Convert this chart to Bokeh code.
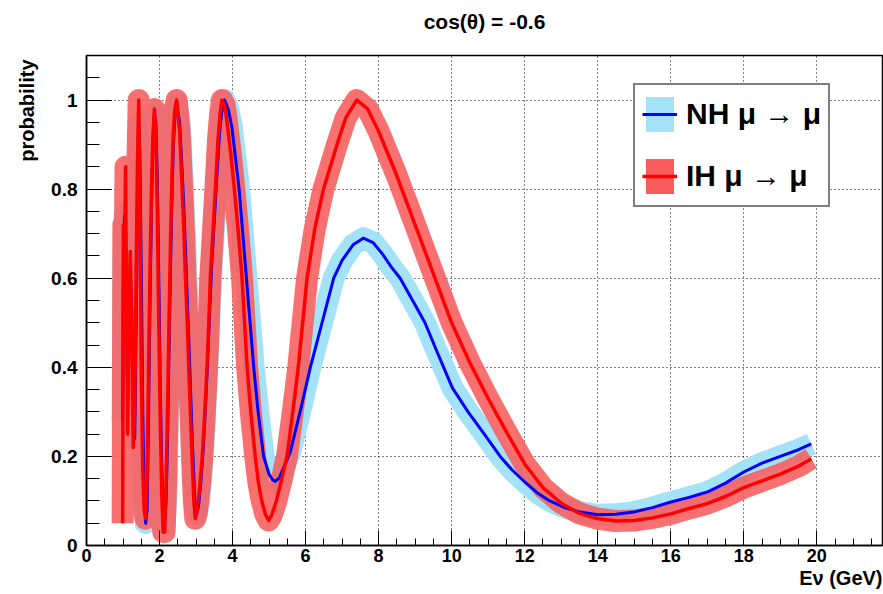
import math
from bokeh.plotting import figure
from bokeh.models import Range1d, FixedTicker, Legend, LegendItem, Title
from bokeh.embed import file_html
from bokeh.resources import INLINE

# ---------------- data ----------------
title_text = "cos(θ) = -0.6"
y_label = "probability"
x_label = "Eν (GeV)"
legend_labels = ["NH μ → μ", "IH μ → μ"]

x_ticks = [0, 2, 4, 6, 8, 10, 12, 14, 16, 18, 20]
y_ticks = [0.0, 0.2, 0.4, 0.6, 0.8, 1.0]
y_tick_labels = ["0", "0.2", "0.4", "0.6", "0.8", "1"]

# NH  mu -> mu survival probability
e_nh = [0.99, 1.01, 1.04, 1.07, 1.10, 1.13, 1.16, 1.20, 1.24, 1.28,
        1.32, 1.36, 1.40, 1.43, 1.46, 1.50, 1.54, 1.58, 1.62, 1.66,
        1.70, 1.74, 1.78, 1.82, 1.86, 1.90, 1.94, 1.98, 2.02, 2.06,
        2.10, 2.14, 2.18, 2.22, 2.26, 2.30, 2.34, 2.38, 2.42, 2.47,
        2.55, 2.62, 2.67, 2.72, 2.77, 2.82, 2.87, 2.92, 2.97, 3.02,
        3.07, 3.13, 3.20, 3.27, 3.33, 3.38, 3.43, 3.50, 3.57, 3.64,
        3.70, 3.78, 3.88, 3.98, 4.08, 4.18, 4.28, 4.38, 4.48, 4.58,
        4.70, 4.85, 5.00, 5.10, 5.17, 5.28, 5.40, 5.58, 5.85, 6.13,
        6.45, 6.77, 7.00, 7.30, 7.58, 7.85, 8.10, 8.35, 8.59, 9.00,
        9.27, 9.60, 10.02, 10.45, 10.87, 11.33, 11.65, 12.01, 12.35, 12.69,
        13.10, 13.52, 14.00, 14.50, 14.98, 15.50, 15.98, 16.50, 17.00, 17.50,
        18.00, 18.50, 19.00, 19.50, 19.85]
p_nh = [0.28, 0.62, 0.74, 0.70, 0.52, 0.32, 0.50, 0.60, 0.52, 0.30,
        0.24, 0.50, 0.78, 0.95, 0.88, 0.62, 0.30, 0.12, 0.05, 0.08,
        0.30, 0.55, 0.76, 0.90, 0.97, 0.95, 0.82, 0.60, 0.36, 0.18,
        0.07, 0.05, 0.10, 0.24, 0.44, 0.62, 0.78, 0.90, 0.96, 0.99,
        0.95, 0.84, 0.75, 0.64, 0.53, 0.42, 0.30, 0.19, 0.10, 0.07,
        0.09, 0.14, 0.22, 0.33, 0.44, 0.54, 0.63, 0.73, 0.83, 0.92,
        0.97, 1.00, 0.98, 0.94, 0.87, 0.80, 0.70, 0.60, 0.50, 0.40,
        0.30, 0.20, 0.16, 0.147, 0.144, 0.152, 0.175, 0.21, 0.30, 0.40,
        0.50, 0.60, 0.64, 0.675, 0.69, 0.68, 0.655, 0.625, 0.60, 0.54,
        0.50, 0.435, 0.354, 0.30, 0.253, 0.20, 0.17, 0.142, 0.118, 0.10,
        0.085, 0.075, 0.069, 0.070, 0.075, 0.085, 0.097, 0.108, 0.12, 0.14,
        0.165, 0.185, 0.20, 0.215, 0.228]

# IH  mu -> mu survival probability
e_ih = [0.99, 1.01, 1.04, 1.07, 1.10, 1.13, 1.16, 1.20, 1.24, 1.28,
        1.32, 1.36, 1.40, 1.43, 1.46, 1.50, 1.54, 1.58, 1.62, 1.66,
        1.70, 1.74, 1.78, 1.82, 1.86, 1.90, 1.94, 1.98, 2.02, 2.06,
        2.10, 2.14, 2.18, 2.22, 2.26, 2.30, 2.34, 2.38, 2.42, 2.47,
        2.55, 2.62, 2.67, 2.71, 2.76, 2.80, 2.85, 2.89, 2.94, 2.98,
        3.03, 3.10, 3.17, 3.24, 3.30, 3.35, 3.39, 3.46, 3.53, 3.60,
        3.66, 3.71, 3.78, 3.85, 3.95, 4.05, 4.15, 4.26, 4.33, 4.40,
        4.50, 4.62, 4.71, 4.80, 4.90, 4.99, 5.08, 5.20, 5.35, 5.49,
        5.65, 5.80, 5.92, 6.04, 6.25, 6.49, 6.86, 7.10, 7.40, 7.70,
        8.00, 8.50, 9.00, 9.50, 10.00, 10.50, 11.00, 11.50, 12.00, 12.50,
        13.00, 13.50, 14.00, 14.50, 15.00, 15.50, 16.00, 16.50, 17.00, 17.50,
        18.00, 18.50, 19.00, 19.50, 19.85]
p_ih = [0.05, 0.72, 0.60, 0.85, 0.45, 0.25, 0.55, 0.66, 0.48, 0.22,
        0.30, 0.62, 0.88, 1.00, 0.80, 0.40, 0.17, 0.08, 0.06, 0.15,
        0.40, 0.62, 0.80, 0.92, 0.98, 0.92, 0.75, 0.50, 0.28, 0.12,
        0.03, 0.03, 0.14, 0.30, 0.50, 0.68, 0.83, 0.93, 0.98, 1.00,
        0.93, 0.80, 0.70, 0.60, 0.50, 0.40, 0.29, 0.20, 0.10, 0.06,
        0.08, 0.13, 0.20, 0.30, 0.40, 0.50, 0.60, 0.70, 0.80, 0.91,
        0.97, 1.00, 0.99, 0.95, 0.88, 0.80, 0.71, 0.60, 0.50, 0.40,
        0.30, 0.20, 0.14, 0.10, 0.07, 0.056, 0.07, 0.10, 0.15, 0.20,
        0.30, 0.40, 0.50, 0.60, 0.71, 0.80, 0.90, 0.96, 1.00, 0.98,
        0.93, 0.83, 0.72, 0.61, 0.50, 0.41, 0.33, 0.255, 0.183, 0.13,
        0.095, 0.072, 0.06, 0.055, 0.056, 0.062, 0.071, 0.083, 0.094, 0.11,
        0.13, 0.145, 0.16, 0.178, 0.195]

# ---------------- styling ----------------
FONT = "Liberation Sans"
NH_LINE = "#0000ff"
IH_LINE = "#ff0000"
NH_BAND = "#a4e2f8"
IH_BAND = "#f85c5c"

W, H = 883, 594
ML, MR, MT, MB = 86, 1, 55, 49

p = figure(width=W, height=H, output_backend="svg", toolbar_location=None,
           x_range=Range1d(0, 21.8), y_range=Range1d(0, 1.1),
           min_border_left=ML, min_border_right=MR,
           min_border_top=MT, min_border_bottom=MB)
p.background_fill_color = "white"
p.border_fill_color = "white"
p.outline_line_color = "black"
p.outline_line_width = 1.5

# spacer between frame and main title
p.add_layout(Title(text=" ", text_font_size="15px", standoff=4), "above")
# title
p.title.text = title_text
p.title.align = "center"
p.title.text_font = FONT
p.title.text_font_style = "bold"
p.title.text_font_size = "21px"
p.title.text_color = "black"
p.title.standoff = 0

# axis titles (as side titles, aligned to the axis ends like ROOT)
ylab = Title(text=y_label, align="right", text_font=FONT, text_font_style="bold",
             text_font_size="20px", text_color="black", standoff=22, offset=4)
p.add_layout(ylab, "left")
xlab = Title(text=x_label, align="right", text_font=FONT, text_font_style="bold",
             text_font_size="20px", text_color="black", standoff=0)
p.add_layout(xlab, "below")

# axes
x_minor = [i * 0.5 for i in range(0, 44)]
y_minor = [i * 0.05 for i in range(0, 23)]
p.xaxis.ticker = FixedTicker(ticks=x_ticks, minor_ticks=x_minor)
p.yaxis.ticker = FixedTicker(ticks=y_ticks, minor_ticks=y_minor)
p.yaxis.major_label_overrides = {t: l for t, l in zip(y_ticks, y_tick_labels)}

for ax in (p.xaxis[0], p.yaxis[0]):
    ax.axis_line_color = "black"
    ax.axis_line_width = 1.5
    ax.major_tick_line_color = "black"
    ax.minor_tick_line_color = "black"
    ax.major_tick_out = 0
    ax.minor_tick_out = 0
    ax.major_label_text_font = FONT
    ax.major_label_text_font_style = "bold"
    ax.major_label_text_color = "black"
p.xaxis.major_tick_in = 15
p.xaxis.minor_tick_in = 7
p.yaxis.major_tick_in = 25
p.yaxis.minor_tick_in = 13
p.xaxis.major_label_text_font_size = "18px"
p.yaxis.major_label_text_font_size = "19px"
p.xaxis.major_label_standoff = 3
p.yaxis.major_label_standoff = 9

for g in (p.xgrid[0], p.ygrid[0]):
    g.grid_line_color = "black"
    g.grid_line_dash = "1 3"
    g.grid_line_width = 1

# bands (drawn as wide strokes around the central curves)
p.line(e_nh, p_nh, line_width=22, line_color=NH_BAND, line_join="round", line_cap="butt")
p.line(e_ih, p_ih, line_width=22, line_color=IH_BAND, line_alpha=0.88, line_join="round", line_cap="butt")
# central curves
nh_line = p.line(e_nh, p_nh, line_width=3, line_color=NH_LINE, line_join="round")
ih_line = p.line(e_ih, p_ih, line_width=3.5, line_color=IH_LINE, line_join="round")

# legend swatches (a quad placed off the visible x range, only used by the legend)
nh_sw = p.quad(left=[-3], right=[-2], top=[0.5], bottom=[0.4], fill_color=NH_BAND, line_color=None)
ih_sw = p.quad(left=[-3], right=[-2], top=[0.5], bottom=[0.4], fill_color=IH_BAND, line_color=None)

legend = Legend(items=[LegendItem(label=legend_labels[0], renderers=[nh_sw, nh_line]),
                       LegendItem(label=legend_labels[1], renderers=[ih_sw, ih_line])],
                location=(547, 338))
legend.label_text_font = FONT
legend.label_text_font_style = "bold"
legend.label_text_font_size = "30px"
legend.label_text_color = "black"
legend.glyph_width = 35
legend.glyph_height = 44
legend.label_height = 44
legend.label_standoff = 9
legend.padding = 7
legend.spacing = 18
legend.margin = 0
legend.border_line_color = "black"
legend.border_line_width = 2
legend.background_fill_color = "white"
legend.background_fill_alpha = 1
p.add_layout(legend, "center")

open("out.html", "w").write(file_html(p, INLINE))
